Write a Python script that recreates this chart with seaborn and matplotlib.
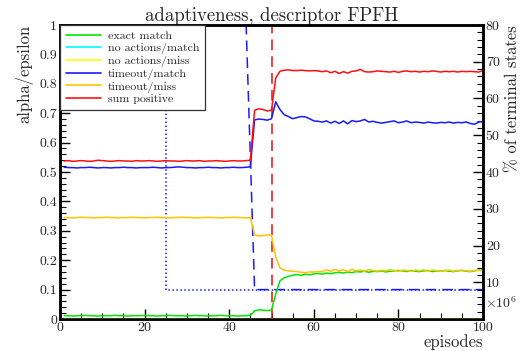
import matplotlib
matplotlib.use("Agg")
import matplotlib.pyplot as plt
import seaborn as sns
import pandas as pd
from matplotlib.ticker import MultipleLocator, FuncFormatter

# ---------------- data ----------------
episodes = list(range(1, 101))  # x 10^6

sum_positive = [
    43.0, 43.1, 42.9, 43.0, 43.1, 43.0, 42.9, 43.0, 43.2, 43.1,
    43.0, 42.9, 43.0, 43.1, 43.0, 43.0, 42.9, 43.1, 43.0, 43.0,
    43.1, 43.0, 42.9, 43.0, 43.1, 43.0, 43.0, 42.9, 43.0, 43.1,
    43.0, 43.0, 43.1, 42.9, 43.0, 43.0, 43.1, 43.0, 42.9, 43.0,
    43.1, 43.0, 43.0, 43.1, 43.2, 56.8, 57.2, 57.0, 56.6, 56.8,
    65.6, 67.4, 67.7, 67.8, 67.6, 67.6, 67.7, 67.6, 67.5, 67.6,
    67.5, 67.3, 67.5, 67.0, 67.4, 66.8, 67.3, 66.9, 67.4, 67.5,
    67.9, 67.3, 67.2, 67.3, 67.5, 67.4, 67.3, 67.2, 67.4, 67.1,
    67.4, 67.5, 67.3, 67.4, 67.2, 67.4, 67.3, 67.5, 67.4, 67.2,
    67.4, 67.3, 67.4, 67.2, 67.4, 67.3, 67.4, 67.3, 67.2, 67.6,
]
timeout_match = [
    41.3, 41.2, 41.2, 41.1, 41.2, 41.2, 41.3, 41.2, 41.1, 41.2,
    41.2, 41.1, 41.2, 41.2, 41.3, 41.2, 41.2, 41.1, 41.2, 41.2,
    41.2, 41.3, 41.2, 41.1, 41.2, 41.2, 41.3, 41.4, 41.3, 41.2,
    41.2, 41.1, 41.2, 41.2, 41.3, 41.2, 41.2, 41.1, 41.2, 41.2,
    41.3, 41.2, 41.2, 41.3, 41.4, 54.2, 54.4, 54.3, 54.1, 54.5,
    59.1, 57.0, 55.6, 55.1, 54.5, 54.8, 55.1, 55.0, 54.5, 53.9,
    53.8, 53.6, 53.9, 53.3, 53.8, 53.2, 53.9, 53.1, 54.0, 53.7,
    53.9, 54.3, 53.6, 53.8, 53.5, 53.3, 53.5, 53.7, 53.9, 53.4,
    53.6, 53.9, 53.4, 53.6, 53.5, 53.3, 53.6, 53.4, 53.3, 53.5,
    53.4, 53.6, 53.3, 53.5, 53.4, 53.6, 53.2, 53.0, 53.6, 53.7,
]
timeout_miss = [
    27.6, 27.6, 27.5, 27.6, 27.7, 27.6, 27.6, 27.5, 27.6, 27.6,
    27.7, 27.6, 27.6, 27.5, 27.6, 27.6, 27.7, 27.6, 27.6, 27.5,
    27.6, 27.6, 27.7, 27.6, 27.6, 27.5, 27.6, 27.6, 27.7, 27.6,
    27.6, 27.5, 27.6, 27.6, 27.7, 27.6, 27.6, 27.5, 27.6, 27.6,
    27.7, 27.6, 27.6, 27.5, 27.6, 22.9, 22.6, 22.7, 22.9, 22.8,
    16.8, 13.9, 13.3, 13.1, 13.0, 12.9, 12.7, 12.6, 12.8, 12.8,
    12.9, 12.9, 13.4, 13.0, 13.5, 13.1, 13.4, 12.9, 13.5, 13.1,
    13.3, 13.0, 13.4, 13.2, 13.0, 13.3, 13.1, 13.4, 13.2, 13.0,
    13.3, 13.2, 13.0, 13.3, 13.1, 13.4, 13.0, 13.3, 13.2, 13.0,
    13.2, 13.3, 13.0, 13.2, 13.3, 13.1, 13.0, 13.2, 13.3, 13.1,
]
exact_match = [
    0.9, 0.9, 0.8, 0.9, 0.9, 1.0, 0.9, 0.9, 0.8, 0.9,
    0.9, 0.9, 1.0, 0.9, 0.9, 0.8, 0.9, 0.9, 0.9, 1.0,
    0.9, 0.9, 0.8, 0.9, 0.9, 1.0, 0.9, 0.9, 0.9, 0.8,
    0.9, 1.0, 0.9, 0.9, 0.8, 0.9, 0.9, 1.0, 0.9, 0.9,
    0.9, 0.8, 0.9, 0.9, 1.0, 2.2, 2.5, 2.4, 2.3, 2.4,
    6.8, 10.4, 11.2, 11.6, 11.9, 12.1, 11.9, 12.2, 12.0, 12.3,
    12.4, 12.2, 12.5, 12.3, 12.6, 12.7, 12.5, 12.8, 12.6, 12.9,
    12.8, 13.0, 12.7, 13.0, 12.9, 13.1, 12.8, 13.0, 13.1, 13.2,
    13.1, 12.9, 13.2, 13.0, 12.9, 13.1, 13.2, 12.9, 13.1, 13.0,
    13.2, 13.0, 12.9, 13.1, 13.2, 13.0, 12.9, 13.1, 13.3, 13.2,
]
no_actions_match = [0.0] * 100
no_actions_miss = [0.0] * 100

alpha_x = [0, 44, 46, 100]
alpha_y = [1.0, 1.0, 0.1, 0.1]
epsilon_x = [0, 25, 25, 100]
epsilon_y = [1.0, 1.0, 0.1, 0.1]
switch_episode = 50

series_labels = ["exact match", "no actions/match", "no actions/miss",
                 "timeout/match", "timeout/miss", "sum positive"]
series_values = [exact_match, no_actions_match, no_actions_miss,
                 timeout_match, timeout_miss, sum_positive]
series_colors = ["#00e600", "#00ffff", "#ffff00", "#1a1aff", "#ffc400", "#ff1010"]

# ---------------- style ----------------
sns.set_style("ticks")
plt.rcParams["font.family"] = ["cmr10", "DejaVu Serif"]
plt.rcParams["mathtext.fontset"] = "cm"
plt.rcParams["axes.formatter.use_mathtext"] = True
plt.rcParams["axes.unicode_minus"] = False

fig = plt.figure(figsize=(5.29, 3.51), dpi=100)
ax = fig.add_axes([60 / 529, 1 - 319 / 351, 423 / 529, 294 / 351])
ax2 = ax.twinx()

# alpha / epsilon on left axis
sns.lineplot(x=alpha_x, y=alpha_y, ax=ax, color="#1a1aff", lw=1.1,
             estimator=None, sort=False, linestyle=(0, (7, 4)))
sns.lineplot(x=epsilon_x, y=epsilon_y, ax=ax, color="#1a1aff", lw=1.1,
             estimator=None, sort=False, linestyle=(0, (1, 1.6)))
ax.axvline(switch_episode, color="#e01010", lw=1.1, linestyle=(0, (7, 4)))

# percentage series on right axis
df = pd.DataFrame({"episode": episodes * len(series_labels),
                   "value": sum(series_values, []),
                   "series": sum([[l] * len(episodes) for l in series_labels], [])})
sns.lineplot(data=df, x="episode", y="value", hue="series",
             hue_order=series_labels, palette=dict(zip(series_labels, series_colors)),
             ax=ax2, lw=1.1, estimator=None)

ax.set_xlim(0, 100)
ax.set_ylim(0, 1)
ax2.set_ylim(0, 80)

ax.xaxis.set_major_locator(MultipleLocator(20))
ax.xaxis.set_minor_locator(MultipleLocator(5))
ax.yaxis.set_major_locator(MultipleLocator(0.1))
ax.yaxis.set_minor_locator(MultipleLocator(0.02))
ax2.yaxis.set_major_locator(MultipleLocator(10))
ax2.yaxis.set_minor_locator(MultipleLocator(2))
ax.yaxis.set_major_formatter(FuncFormatter(lambda v, p: "%g" % round(v, 2)))
ax.xaxis.set_major_formatter(FuncFormatter(lambda v, p: "%g" % v))
ax2.yaxis.set_major_formatter(FuncFormatter(lambda v, p: "" if v < 1 else "%g" % v))

for a in (ax, ax2):
    a.tick_params(which="major", direction="in", length=7, width=1.0,
                  labelsize=10, pad=2, color="black")
    a.tick_params(which="minor", direction="in", length=4, width=0.8, color="black")
    for s in a.spines.values():
        s.set_linewidth(1.8)
        s.set_color("black")
ax2.tick_params(axis="y", which="both", right=True, left=False)
ax.tick_params(axis="y", which="both", right=False)
ax.tick_params(axis="x", which="both", top=False)

ax.set_title("adaptiveness, descriptor FPFH", fontsize=13.5, pad=3)
ax.set_xlabel("episodes", fontsize=12, loc="right", labelpad=0)
ax.set_ylabel("alpha/epsilon", fontsize=12, loc="top", labelpad=4)
ax2.set_ylabel("% of terminal states", fontsize=12, loc="top", labelpad=4)
ax.text(1.005, 0.055, r"$\times10^{6}$", transform=ax.transAxes,
        fontsize=10, ha="left", va="center")

handles, labels = ax2.get_legend_handles_labels()
leg = ax2.legend(handles, labels, loc="upper left", bbox_to_anchor=(0, 1),
                 borderaxespad=0, fontsize=8.6, frameon=True, fancybox=False,
                 edgecolor="#333333", framealpha=1, handlelength=2.9,
                 labelspacing=0.12, borderpad=0.5, handletextpad=0.6)
leg.get_frame().set_linewidth(0.9)
for l in leg.get_lines():
    l.set_linewidth(1.2)

fig.savefig("out.png", dpi=100)
